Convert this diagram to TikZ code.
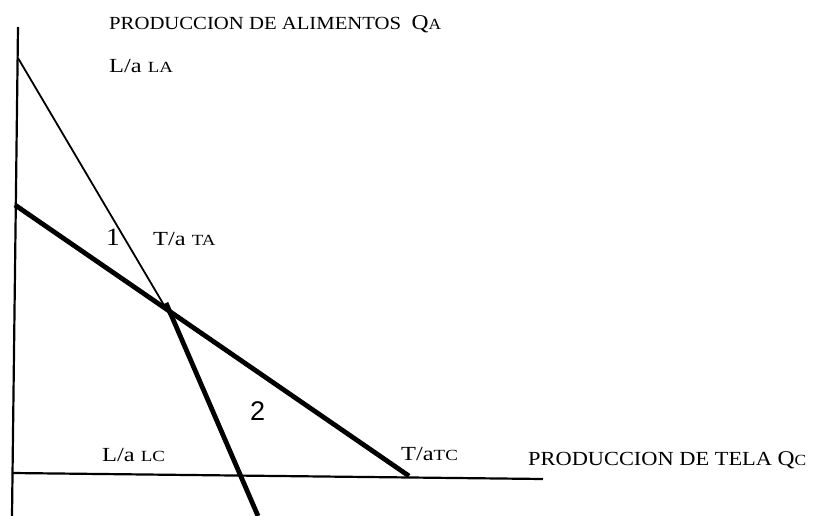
\documentclass[tikz,border=0pt]{standalone}
\usepackage{fontspec}
\setmainfont{Liberation Serif}
\newfontfamily\numfont{Liberation Sans}
\usetikzlibrary{positioning}

\newcommand{\wide}[1]{\scalebox{1.22}[1]{#1}}
\newcommand{\smc}[1]{{\fontsize{15.5}{15.5}\selectfont #1}}

\tikzset{
  lbl/.style={anchor=base west, inner sep=0pt, font=\fontsize{20}{20}\selectfont},
  ttl/.style={anchor=base west, inner sep=0pt, font=\fontsize{18.5}{18.5}\selectfont},
  axis/.style={line width=2.2pt},
  fine/.style={line width=1.8pt},
  bold/.style={line width=4.8pt}
}

\begin{document}
\begin{tikzpicture}[x=1pt, y=-1pt]
\useasboundingbox (0,0) rectangle (839,516);
%points

\coordinate (Ytop) at (18,27);
\coordinate (Ybot) at (12,516);
\coordinate (Xbeg) at (12,473);
\coordinate (Xend) at (543,479);

\coordinate (LA) at (18,58);
\coordinate (Cross) at (171,317);
\coordinate (TA) at (15,205);
\coordinate (TC) at (409,476);
\coordinate (K) at (166,303);
\coordinate (LC) at (258,516);

%labels

\node (QA)[ttl] at (109,30) {\scalebox{1.12}[1]{PRODUCCION DE ALIMENTOS\ \ {\fontsize{21}{21}\selectfont Q}\smc{A}}};
\node (LAtxt)[lbl] at (109,73) {\wide{L/a \smc{LA}}};
\node (one)[lbl, font=\fontsize{25}{25}\selectfont] at (106,246) {\scalebox{1.1}[1]{1}};
\node (TAtxt)[lbl] at (153,246) {\wide{T/a \smc{TA}}};
\node (two)[lbl, font=\numfont\fontsize{27}{27}\selectfont] at (250,420) {2};
\node (LCtxt)[lbl] at (102,461) {\wide{L/a \smc{LC}}};
\node (TCtxt)[lbl] at (401,460) {\wide{T/a\smc{TC}}};
\node (QC)[lbl] at (528,465) {\scalebox{1.12}[1]{PRODUCCION DE TELA {\fontsize{21}{21}\selectfont Q}\smc{C}}};

%lines
\draw[axis] (Ytop) -- (Ybot);
\draw[axis] (Xbeg) -- (Xend);
\draw[fine] (LA) -- (Cross);
\draw[bold] (TA) -- (TC);
\draw[bold] (K) -- (LC);
\end{tikzpicture}
\end{document}
